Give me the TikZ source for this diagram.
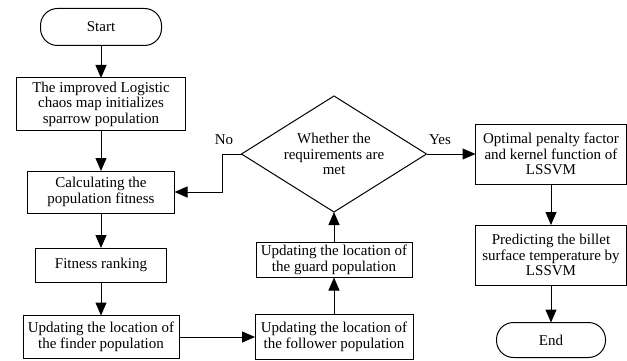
\documentclass[tikz,border=0pt]{standalone}
\usepackage{fontspec}
\setmainfont{Liberation Serif}
\usetikzlibrary{shapes.geometric}
\usetikzlibrary{arrows.meta}

\tikzset{
  txt/.style={font=\fontsize{15}{15.5}\selectfont},
  box/.style={txt,draw,line width=1pt,align=center,inner sep=1pt,outer sep=0pt},
  term/.style={box,rounded corners=17pt},
  judgebox/.style={box,diamond,aspect=1.6,inner sep=0pt,minimum width=185pt,minimum height=116pt},
  flow/.style={line width=1pt,-{Triangle[length=13pt,width=11pt]}}
}

\begin{document}
\begin{tikzpicture}[x=1pt,y=-1pt]
  \useasboundingbox (0,0) rectangle (627,361);

  % left column
  \node[term,minimum width=121pt,minimum height=37pt] (start) at (101,27) {Start};
  \node[box,minimum width=169pt,minimum height=52pt] (init) at (101,104)
    {The improved Logistic\\chaos map initializes\\sparrow population};
  \node[box,minimum width=147pt,minimum height=42pt] (fit) at (101,192)
    {Calculating the\\population fitness};
  \node[box,minimum width=131pt,minimum height=34pt] (rank) at (101,265) {Fitness ranking};
  \node[box,minimum width=156pt,minimum height=43pt] (finder) at (101,337)
    {Updating the location of\\the finder population};

  % middle column
  \node[box,minimum width=158pt,minimum height=45pt] (follower) at (334,337)
    {Updating the location of\\the follower population};
  \node[box,minimum width=156pt,minimum height=35pt] (guard) at (334,260)
    {Updating the location of\\the guard population};
  \node[judgebox] (judge) at (334,154) {Whether the\\requirements are\\met};

  % right column
  \node[box,minimum width=151pt,minimum height=60pt] (optim) at (551,154)
    {Optimal penalty factor\\and kernel function of\\LSSVM};
  \node[box,minimum width=151pt,minimum height=60pt] (predict) at (551,255)
    {Predicting the billet\\surface temperature by\\LSSVM};
  \node[term,minimum width=109pt,minimum height=35pt] (stop) at (551,340) {End};

  \node[txt] (no) at (224,140) {No};
  \node[txt] (yes) at (440,140) {Yes};

  \draw[flow] (start) -- (init);
  \draw[flow] (init) -- (fit);
  \draw[flow] (fit) -- (rank);
  \draw[flow] (rank) -- (finder);
  \draw[flow] (finder) -- (follower);
  \draw[flow] (follower) -- (guard);
  \draw[flow] (guard) -- (judge);
  \draw[flow] (judge.west) -- ++(-19,0) |- (fit.east);
  \draw[flow] (judge.east) -- (optim);
  \draw[flow] (optim) -- (predict);
  \draw[flow] (predict) -- (stop);

\end{tikzpicture}
\end{document}
